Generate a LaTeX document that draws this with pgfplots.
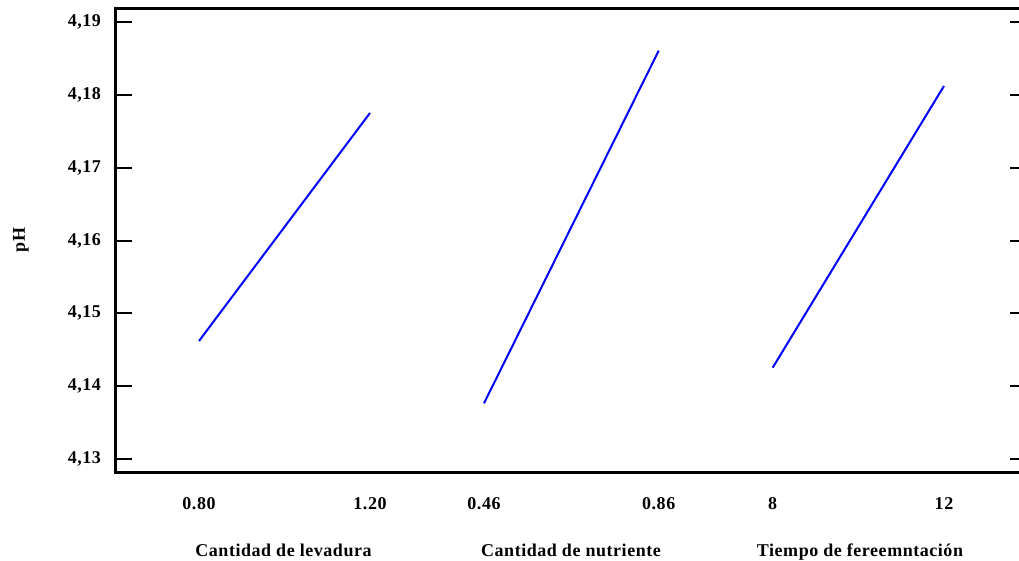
\documentclass[border=0pt]{standalone}
\usepackage{fontspec}
\setmainfont{Liberation Serif}[LetterSpace=3]
\usepackage{pgfplots}
\pgfplotsset{compat=1.18}
\begin{document}
\begin{tikzpicture}
\begin{axis}[
  name=ax,
  scale only axis,
  width=455pt, height=232pt,
  xmin=116, xmax=1026,
  ymin=4.128078, ymax=4.191787,
  clip=false,
  axis line style={line width=1.5pt},
  font=\fontsize{9}{10.8}\selectfont\bfseries,
  ytick={4.13,4.14,4.15,4.16,4.17,4.18,4.19},
  yticklabels={{4,13},{4,14},{4,15},{4,16},{4,17},{4,18},{4,19}},
  yticklabel style={xshift=-4.0pt},
  ytick style={line width=1pt, black},
  major tick length=8pt,
  tick align=inside,
  xtick={199,370,484,658.7,772.7,944},
  xticklabels={0.80,1.20,0.46,0.86,8,12},
  xtick style={draw=none},
  xticklabel style={yshift=-8.8pt},
]
\addplot[blue, line width=1pt] coordinates {
  (199,4.14620) (241.75,4.15403) (284.5,4.16186) (327.25,4.16968) (370,4.17751)};
\addplot[blue, line width=1pt] coordinates {
  (484,4.13765) (527.7,4.14975) (571.35,4.16186) (615,4.17396) (658.7,4.18606)};
\addplot[blue, line width=1pt] coordinates {
  (772.7,4.14254) (815.5,4.15221) (858.35,4.16188) (901.2,4.17155) (944,4.18122)};
\node[anchor=base] at (axis cs:283.5,4.116544) {Cantidad de levadura};
\node[anchor=base] at (axis cs:571,4.116544) {Cantidad de nutriente};
\node[anchor=base] at (axis cs:860,4.116544) {Tiempo de fereemntación};
\node[rotate=90, anchor=center] at (axis cs:21,4.16007) {pH};
\coordinate (bl) at (axis cs:0,4.115995);
\coordinate (tr) at (axis cs:1019,4.193024);
\end{axis}
\pgfresetboundingbox
\useasboundingbox (bl) rectangle (tr);
\end{tikzpicture}
\end{document}
